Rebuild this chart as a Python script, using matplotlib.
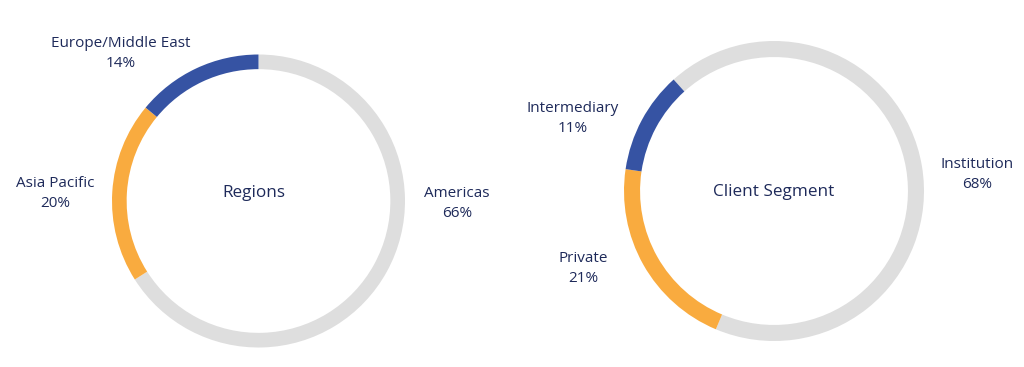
import matplotlib
matplotlib.use('Agg')
import matplotlib.pyplot as plt

plt.rcParams['font.family'] = ['Open Sans', 'DejaVu Sans']
plt.rcParams['font.weight'] = 'medium'

navy = '#1e2a5a'
ring_colors = ['#dedede', '#f9ab3f', '#3653a3']

# left donut
region_names = ['Americas', 'Asia Pacific', 'Europe/Middle East']
region_share = [66, 20, 14]
region_label_xy = [(1.355, -0.014), (-1.39, 0.05), (-0.94, 1.01)]

# right donut
segment_names = ['Institution', 'Private', 'Intermediary']
segment_share = [68, 21, 11]
segment_label_xy = [(1.353, 0.107), (-1.273, -0.517), (-1.34, 0.483)]

W, H = 1024, 367
fig = plt.figure(figsize=(W/100, H/100), dpi=100)

def donut(cx, cy, r, ring, values, names, label_xy, title, title_xy, start):
  # cx, cy, r in pixels (cy from top)
  ax = fig.add_axes([(cx-r)/W, (H-cy-r)/H, 2*r/W, 2*r/H])
  ax.pie(values, colors=ring_colors, startangle=start, counterclock=False,
         radius=1, wedgeprops=dict(width=ring, linewidth=0))
  ax.set_xlim(-1, 1)
  ax.set_ylim(-1, 1)
  ax.set_aspect('equal')
  ax.axis('off')
  for name, v, (x, y) in zip(names, values, label_xy):
    ax.text(x, y, '%s\n%d%%' % (name, v), ha='center', va='center',
            fontsize=11, color=navy, linespacing=1.45, clip_on=False)
  ax.text(title_xy[0], title_xy[1], title, ha='center', va='center', fontsize=12.3, color=navy)

donut(258.5, 201, 146.5, 0.10, region_share, region_names, region_label_xy, 'Regions', (-0.03, 0.055), 90)
donut(774, 191, 150, 0.107, segment_share, segment_names, segment_label_xy, 'Client Segment', (0.0, -0.007), 132)

fig.savefig('out.png', dpi=100, facecolor='white')
